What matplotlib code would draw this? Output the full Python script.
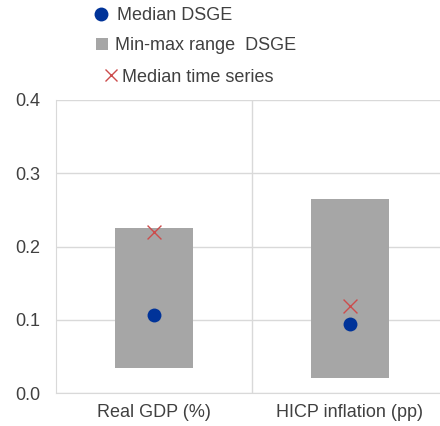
import matplotlib
matplotlib.use("Agg")
import matplotlib.pyplot as plt
from matplotlib.lines import Line2D

categories = ["Real GDP (%)", "HICP inflation (pp)"]
range_min = [0.034, 0.020]
range_max = [0.225, 0.265]
median_dsge = [0.106, 0.094]
median_ts = [0.220, 0.119]
yticks = [0.0, 0.1, 0.2, 0.3, 0.4]
legend_labels = ["Median DSGE", "Min-max range  DSGE", "Median time series"]

plt.rcParams['font.family'] = ['Liberation Sans', 'DejaVu Sans']
txt = '#404040'
W, H = 440, 426
fig = plt.figure(figsize=(W/100, H/100), dpi=100)
ax = fig.add_axes([56/W, 33/H, 1 - 56/W, 293/H])

x = list(range(len(categories)))
heights = [hi - lo for lo, hi in zip(range_min, range_max)]
ax.bar(x, heights, bottom=range_min, width=0.4, color='#a6a6a6', zorder=2)
ax.scatter(x, median_dsge, s=100, color='#003399', zorder=3, linewidths=0)
ax.scatter(x, median_ts, s=100, marker='x', color='#cc4c4c', linewidths=1.0, zorder=4)

ax.set_ylim(0, 0.4)
ax.set_xlim(-0.5, 1.5 - 8/196)
ax.set_yticks(yticks)
ax.set_yticklabels([f"{v:.1f}" for v in yticks])
ax.set_xticks(x)
ax.set_xticklabels(categories)
ax.tick_params(length=0, labelsize=13, colors=txt)
ax.tick_params(axis='y', pad=11)
ax.tick_params(axis='x', pad=8)
ax.grid(axis='y', color='#d9d9d9', linewidth=1, zorder=0)
ax.axvline(0.5, color='#d9d9d9', linewidth=1, zorder=0)
for s in ['top', 'right']:
    ax.spines[s].set_visible(False)
ax.spines['left'].set_color('#d9d9d9')
ax.spines['bottom'].set_color('#d9d9d9')
ax.set_axisbelow(True)

handles = [
    Line2D([], [], marker='o', linestyle='none', color='#003399', markersize=10, markeredgewidth=0),
    Line2D([], [], marker='s', linestyle='none', color='#a6a6a6', markersize=8, markeredgewidth=0),
    Line2D([], [], marker='x', linestyle='none', color='#cc4c4c', markersize=8, markeredgewidth=1.0),
]
# (left x px, center y px, textpad)
specs = [(92, 16, 0.38), (93, 46, 0.22), (102, 77, 0.08)]
for h, lab, (lx, cy, tp) in zip(handles, legend_labels, specs):
    leg = fig.legend([h], [lab], loc='center left', bbox_to_anchor=(lx/W, 1 - cy/H),
                     frameon=False, fontsize=13, handlelength=1.0, handletextpad=tp,
                     borderpad=0.0, borderaxespad=0.0)
    for t in leg.get_texts():
        t.set_color(txt)

fig.savefig("out.png", dpi=100)
